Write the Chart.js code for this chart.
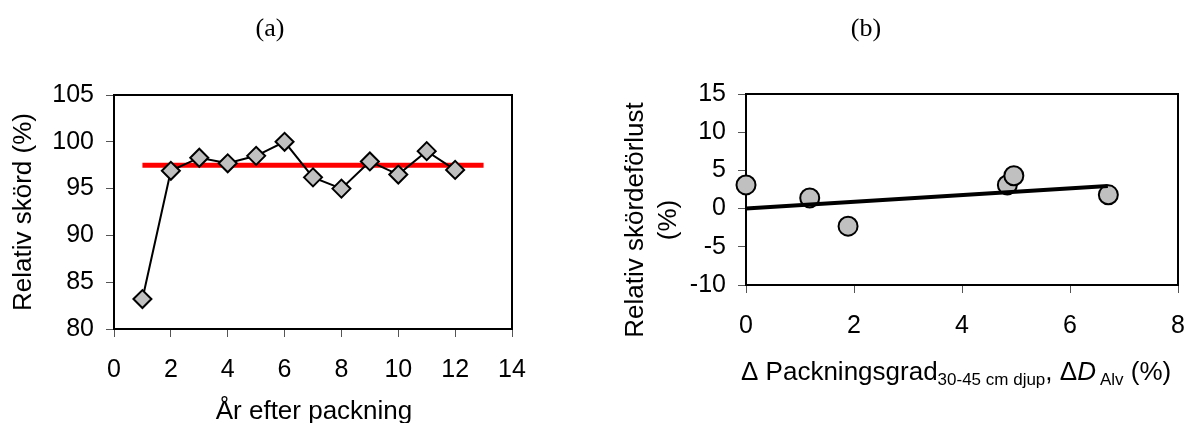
<!DOCTYPE html>
<html>
<head>
<meta charset="utf-8">
<script src="https://cdn.jsdelivr.net/npm/chart.js@4.4.0/dist/chart.umd.min.js"></script>
<style>
  html, body { margin: 0; padding: 0; background: #fff; }
  #wrap { position: relative; width: 1187px; height: 423px; overflow: hidden; }
  canvas { position: absolute; top: 0; }
</style>
</head>
<body>
<div id="wrap">
  <canvas id="chartA" width="600" height="423" style="left:0px"></canvas>
  <canvas id="chartB" width="587" height="423" style="left:600px"></canvas>
</div>
<script>
// (a) relative yield per year after compaction
const years = [1, 2, 3, 4, 5, 6, 7, 8, 9, 10, 11, 12];
const relYield = [83.2, 96.9, 98.3, 97.7, 98.5, 100.0, 96.2, 95.0, 97.9, 96.5, 99.0, 97.0];
const meanX = [1, 13];
const meanY = [97.5, 97.5];
const xTicksA = [0, 2, 4, 6, 8, 10, 12, 14];
const yTicksA = [80, 85, 90, 95, 100, 105];

// (b) relative yield loss vs change in degree of compactness
const packDiff = [0, 1.18, 1.89, 4.84, 4.96, 6.71];
const yieldLoss = [3.1, 1.4, -2.3, 3.1, 4.3, 1.8];
const trendX = [0, 6.7];
const trendY = [0.0, 2.95];
const xTicksB = [0, 2, 4, 6, 8];
const yTicksB = [-10, -5, 0, 5, 10, 15];

const SANS = "'Liberation Sans', Arial, sans-serif";
const SERIF = "'Liberation Serif', 'Times New Roman', serif";

function pts(xs, ys) {
    return ys.map((y, i) => ({ x: xs[i], y: y }));
}

// fixed-size axis; the label overflow padding is dropped so the plot box stays put
function axis(min, max, tickList, pad, size) {
    return {
        type: "linear",
        min: min,
        max: max,
        afterBuildTicks: s => { s.ticks = tickList.map(v => ({ value: v })); },
        afterFit: s => {
            if (s.isHorizontal()) s.height = size; else s.width = size;
            s.paddingLeft = s.paddingRight = s.paddingTop = s.paddingBottom = 0;
        },
        ticks: { color: "#000", font: { family: SANS, size: 25 }, padding: pad, autoSkip: false, maxRotation: 0 },
        grid: { display: true, drawOnChartArea: false, drawTicks: true, tickLength: 8, color: "#555", lineWidth: 1 },
        border: { display: true, color: "#000", width: 2 }
    };
}

// box around the plot area, drawn under the marks
const frame = {
    id: "frame",
    beforeDatasetsDraw(chart) {
        const { ctx, chartArea: a } = chart;
        ctx.save();
        ctx.strokeStyle = "#000";
        ctx.lineWidth = 2;
        ctx.strokeRect(a.left, a.top, a.right - a.left, a.bottom - a.top);
        ctx.restore();
    }
};

// free text: runs of {t, font, dy}
function drawRuns(ctx, x, y, runs) {
    ctx.textAlign = "left";
    ctx.textBaseline = "alphabetic";
    runs.forEach(r => {
        ctx.font = r.font;
        ctx.fillText(r.t, x + (r.dx || 0), y + (r.dy || 0));
        x += ctx.measureText(r.t).width + (r.dx || 0);
    });
}

const textsA = {
    id: "textsA",
    afterDraw(chart) {
        const ctx = chart.ctx;
        ctx.save();
        ctx.fillStyle = "#000";
        ctx.textAlign = "center";
        ctx.textBaseline = "alphabetic";
        ctx.font = "26px " + SERIF;
        ctx.fillText("(a)", 270, 36);
        ctx.font = "26px " + SANS;
        ctx.fillText("År efter packning", 314, 419);
        ctx.translate(31, 212);
        ctx.rotate(-Math.PI / 2);
        ctx.fillText("Relativ skörd (%)", 0, 0);
        ctx.restore();
    }
};

const textsB = {
    id: "textsB",
    afterDraw(chart) {
        const ctx = chart.ctx;
        ctx.save();
        ctx.fillStyle = "#000";
        ctx.textAlign = "center";
        ctx.textBaseline = "alphabetic";
        ctx.font = "26px " + SERIF;
        ctx.fillText("(b)", 266, 36);
        ctx.save();
        ctx.font = "26px " + SANS;
        ctx.translate(43, 220);
        ctx.rotate(-Math.PI / 2);
        ctx.fillText("Relativ skördeförlust", 0, 0);
        ctx.fillText("(%)", 0, 33);
        ctx.restore();
        const big = "26px " + SANS, small = "17px " + SANS;
        drawRuns(ctx, 141, 380, [
            { t: "\u0394 Packningsgrad", font: big },
            { t: "30-45 cm djup", font: small, dy: 5 },
            { t: ", \u0394", font: big },
            { t: "D", font: "italic 26px " + SANS },
            { t: "Alv", font: small, dy: 5, dx: 4 },
            { t: " (%)", font: big }
        ]);
        ctx.restore();
    }
};

new Chart(document.getElementById("chartA"), {
    type: "scatter",
    data: {
        datasets: [{
            data: pts(years, relYield),
            showLine: true,
            borderColor: "#000",
            borderWidth: 2,
            pointStyle: "rectRot",
            pointRadius: 9,
            pointBackgroundColor: "#c0c0c0",
            pointBorderColor: "#000",
            pointBorderWidth: 2,
            clip: false,
            order: 1
        }, {
            data: pts(meanX, meanY),
            showLine: true,
            borderColor: "#ff0000",
            borderWidth: 5,
            pointRadius: 0,
            order: 2
        }]
    },
    options: {
        responsive: false,
        animation: false,
        layout: { autoPadding: false, padding: { left: 0, top: 95, right: 88, bottom: 0 } },
        plugins: { legend: { display: false }, tooltip: { enabled: false } },
        scales: {
            x: axis(0, 14, xTicksA, 18, 94),
            y: axis(80, 105, yTicksA, 12, 114)
        }
    },
    plugins: [frame, textsA]
});

new Chart(document.getElementById("chartB"), {
    type: "scatter",
    data: {
        datasets: [{
            data: pts(trendX, trendY),
            showLine: true,
            borderColor: "#000",
            borderWidth: 4,
            pointRadius: 0,
            order: 1
        }, {
            data: pts(packDiff, yieldLoss),
            pointStyle: "circle",
            pointRadius: 9.5,
            pointBackgroundColor: "#c0c0c0",
            pointBorderColor: "#000",
            pointBorderWidth: 2,
            clip: false,
            order: 2
        }]
    },
    options: {
        responsive: false,
        animation: false,
        layout: { autoPadding: false, padding: { left: 0, top: 94, right: 9, bottom: 0 } },
        plugins: { legend: { display: false }, tooltip: { enabled: false } },
        scales: {
            x: axis(0, 8, xTicksB, 18, 138),
            y: axis(-10, 15, yTicksB, 12, 146)
        }
    },
    plugins: [frame, textsB]
});
</script>
</body>
</html>
